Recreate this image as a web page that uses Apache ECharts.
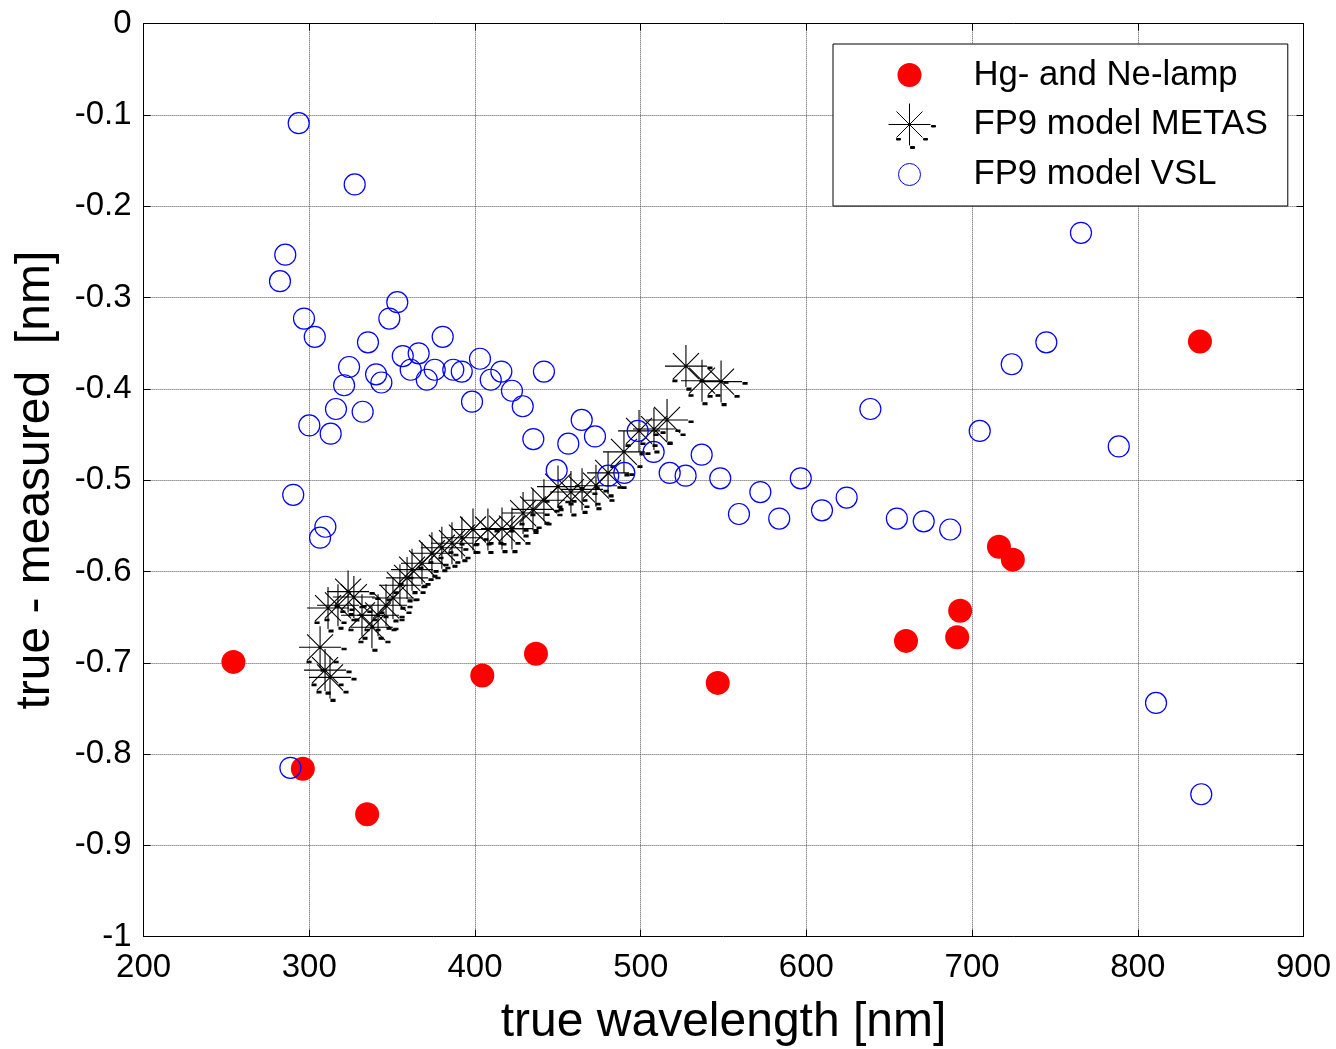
<!DOCTYPE html>
<html>
<head>
<meta charset="utf-8">
<title>true - measured</title>
<script src="https://cdn.jsdelivr.net/npm/echarts@6/dist/echarts.min.js"></script>
<style>
  html, body { margin: 0; padding: 0; background: #fff; }
  #chart { width: 1336px; height: 1049px; }
</style>
</head>
<body>
<div id="chart"></div>
<script>
// Hg- and Ne-lamp lines
const lampWavelength = [254.2, 296.1, 334.9, 404.4, 436.8, 546.5, 660.1, 691.0, 692.8, 716.2, 724.6, 837.5];
const lampDiff = [-0.699, -0.816, -0.866, -0.714, -0.690, -0.722, -0.676, -0.672, -0.643, -0.573, -0.587, -0.348];

// FP9 model METAS
const metasWavelength = [306.5, 309.5, 312.5, 311.3, 317.3, 323.4, 326.9, 331.8, 337.8, 341.5,
  346.3, 350.5, 354.7, 359.0, 362.0, 368.0, 374.0, 380.0, 386.1, 392.1,
  398.8, 407.8, 416.3, 422.3, 429.0, 435.0, 441.6, 450.1, 457.9, 464.6,
  473.0, 480.3, 489.9, 499.0, 508.0, 515.9, 527.3, 537.0, 548.5];
const metasDiff = [-0.683, -0.708, -0.716, -0.640, -0.637, -0.622, -0.628, -0.648, -0.661, -0.648,
  -0.637, -0.629, -0.615, -0.607, -0.598, -0.591, -0.580, -0.574, -0.569, -0.563,
  -0.554, -0.554, -0.553, -0.553, -0.536, -0.532, -0.522, -0.507, -0.513, -0.510,
  -0.506, -0.492, -0.469, -0.446, -0.444, -0.434, -0.375, -0.391, -0.392];

// FP9 model VSL
const vslWavelength = [282.3, 285.5, 288.6, 290.3, 293.6, 296.8, 300.0, 303.3, 306.5, 309.7,
  312.9, 316.1, 321.0, 324.0, 327.4, 332.2, 335.4, 340.3, 343.5, 348.3,
  353.1, 356.4, 361.2, 366.0, 370.9, 375.7, 380.5, 386.9, 392.0, 398.2,
  403.0, 409.5, 415.9, 422.3, 428.8, 435.2, 441.6, 449.3, 456.3, 464.4,
  472.4, 480.4, 490.1, 498.2, 507.8, 517.5, 527.1, 536.8, 548.0, 559.3,
  572.2, 583.6, 596.6, 609.4, 624.3, 638.6, 654.6, 670.8, 686.8, 704.6,
  723.9, 744.8, 765.7, 788.5, 811.0, 838.3];
const vslDiff = [-0.282, -0.253, -0.815, -0.516, -0.109, -0.323, -0.440, -0.343, -0.563, -0.551,
  -0.449, -0.422, -0.396, -0.376, -0.176, -0.425, -0.349, -0.384, -0.393, -0.323,
  -0.305, -0.364, -0.379, -0.361, -0.390, -0.379, -0.343, -0.379, -0.381, -0.414,
  -0.367, -0.390, -0.381, -0.402, -0.419, -0.455, -0.381, -0.489, -0.460, -0.434,
  -0.452, -0.495, -0.492, -0.446, -0.469, -0.492, -0.495, -0.472, -0.498, -0.537,
  -0.513, -0.542, -0.498, -0.533, -0.519, -0.422, -0.542, -0.545, -0.554, -0.446,
  -0.373, -0.349, -0.229, -0.463, -0.744, -0.844];

const seriesNames = ['Hg- and Ne-lamp', 'FP9 model METAS', 'FP9 model VSL'];
const xRange = [200, 900, 100];
const yRange = [-1, 0, 0.1];

const font = "'Liberation Sans', Arial, sans-serif";

// matlab style asterisk, M0,0 M52,52 keeps the box square around the centre
const starPath = 'path://M0,0M52,52M5,26L47,26M26,5L26,47M13,13L39,39M39,13L13,39' +
  'M48,27h4v1.5h-4zM27,48h4v2h-4zM13,40h4v1.5h-4zM40,40h4v1.5h-4z';
// legend icons sit in a 118x48 box
const legendDot = 'path://M0,0M118,48M47,24a12,12 0 1,0 24,0a12,12 0 1,0 -24,0z';
const legendRing = 'path://M0,0M118,48M48,24a11,11 0 1,0 22,0a11,11 0 1,0 -22,0z';
const legendStar = 'path://M0,0M118,48M38,24L80,24M59,3L59,45M46,11L72,37M72,11L46,37' +
  'M81,25h4v1.5h-4zM60,46h4v2h-4zM46,38h4v1.5h-4zM73,38h4v1.5h-4z';

const zip = (xs, ys) => xs.map((x, i) => [x, ys[i]]);

const chart = echarts.init(document.getElementById('chart'), null, { renderer: 'canvas' });

const baseAxis = {
  type: 'value',
  axisLine: { show: true, onZero: false, lineStyle: { color: '#000', width: 1 } },
  axisTick: { show: true, inside: true, length: 7, lineStyle: { color: '#000', width: 1 } },
  splitLine: { show: false },
};

const option = {
  animation: false,
  backgroundColor: '#fff',
  textStyle: { fontFamily: font },
  // fixed plot box, no shrinking to fit the labels
  grid: { left: 143.6, right: 32.5, top: 23.7, bottom: 112.3, containLabel: false, outerBoundsMode: 'none' },
  legend: {
    orient: 'vertical',
    left: 833,
    top: 44,
    padding: [7, 20, 7, 17],
    itemWidth: 118,
    itemHeight: 48,
    itemGap: 1,
    selectedMode: false,
    backgroundColor: '#fff',
    borderColor: '#000',
    borderWidth: 1,
    textStyle: { fontSize: 34.7, color: '#000', fontFamily: font },
    data: [
      { name: seriesNames[0], icon: legendDot, itemStyle: { color: '#ff0000', borderWidth: 0 } },
      { name: seriesNames[1], icon: legendStar, itemStyle: { color: '#000', borderColor: '#000', borderWidth: 1 } },
      { name: seriesNames[2], icon: legendRing, itemStyle: { color: 'rgba(0,0,0,0)', borderColor: '#0000ff', borderWidth: 1 } },
    ],
  },
  xAxis: [
    {
      ...baseAxis,
      position: 'bottom',
      min: xRange[0], max: xRange[1], interval: xRange[2],
      axisLabel: { fontSize: 33, color: '#000', margin: 15, fontFamily: font },
      splitLine: { show: true, lineStyle: { type: 'dotted', color: '#555', width: 1 } },
      name: 'true wavelength [nm]',
      nameLocation: 'middle',
      nameGap: 62,
      nameTextStyle: { fontSize: 48, color: '#000', fontFamily: font },
    },
    {
      ...baseAxis,
      position: 'top',
      min: xRange[0], max: xRange[1], interval: xRange[2],
      axisLabel: { show: false },
    },
  ],
  yAxis: [
    {
      ...baseAxis,
      position: 'left',
      min: yRange[0], max: yRange[1], interval: yRange[2],
      axisLabel: { fontSize: 33, color: '#000', margin: 12, fontFamily: font },
      splitLine: { show: true, lineStyle: { type: 'dotted', color: '#555', width: 1 } },
      name: 'true - measured  [nm]',
      nameLocation: 'middle',
      nameGap: 84,
      nameTextStyle: { fontSize: 48, color: '#000', fontFamily: font },
    },
    {
      ...baseAxis,
      position: 'right',
      min: yRange[0], max: yRange[1], interval: yRange[2],
      axisLabel: { show: false },
    },
  ],
  series: [
    {
      name: seriesNames[0],
      type: 'scatter',
      symbol: 'circle',
      symbolSize: 24,
      itemStyle: { color: '#ff0000', borderWidth: 0, opacity: 1 },
      data: zip(lampWavelength, lampDiff),
    },
    {
      name: seriesNames[1],
      type: 'scatter',
      symbol: starPath,
      symbolSize: 52,
      itemStyle: { color: '#000', borderColor: '#000', borderWidth: 1.1, opacity: 1 },
      data: zip(metasWavelength, metasDiff),
    },
    {
      name: seriesNames[2],
      type: 'scatter',
      symbol: 'circle',
      symbolSize: 21,
      itemStyle: { color: 'rgba(0,0,0,0)', borderColor: '#0000ff', borderWidth: 1.2, opacity: 1 },
      data: zip(vslWavelength, vslDiff),
    },
  ],
};

chart.setOption(option);

window.addEventListener('resize', () => chart.resize());
</script>
</body>
</html>
